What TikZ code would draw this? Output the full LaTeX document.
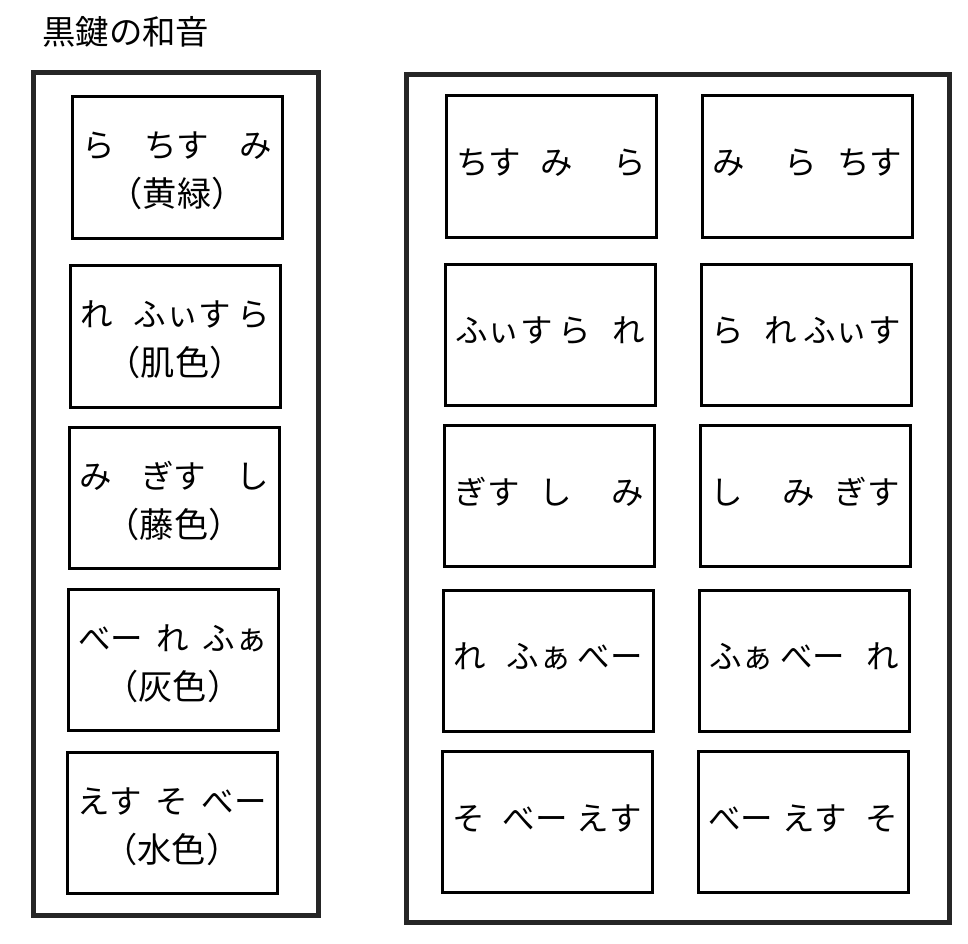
\documentclass[tikz,border=0pt]{standalone}
\usepackage{fontspec}
\newfontfamily\jpfont{Noto Sans CJK JP}
\tikzset{
  panel/.style={draw=black!85, line width=0.1cm},
  card/.style={draw, line width=0.06cm, minimum width=4.2cm, minimum height=2.82cm, inner sep=0pt},
  chord/.style={text width=3.8cm, align=justify, font=\jpfont\fontsize{18.5}{22}\selectfont},
  colour/.style={font=\jpfont\fontsize{19.5}{23}\selectfont}
}
\begin{document}
\begin{tikzpicture}

  \useasboundingbox (0,0) rectangle (19.36,-18.88);
  \node[anchor=west, inner sep=0pt, font=\jpfont\fontsize{19}{22}\selectfont] (title) at (0.84,-0.64) {黒鍵の和音};

  % left panel
  \draw[panel] (0.66,-1.46) rectangle (6.36,-18.30);
  \node[card] (l1) at (3.54,-3.35) {};
  \node[card] (l2) at (3.50,-6.73) {};
  \node[card] (l3) at (3.48,-9.96) {};
  \node[card] (l4) at (3.46,-13.20) {};
  \node[card] (l5) at (3.44,-16.46) {};

  \node[chord] at ([yshift=0.44cm]l1.center) {ら\hfill ちす\hfill み};
  \node[colour] at ([yshift=-0.52cm]l1.center) {（黄緑）};
  \node[chord] at ([yshift=0.44cm]l2.center) {れ\hfill ふぃす\hspace{0.12cm}ら};
  \node[colour] at ([yshift=-0.52cm]l2.center) {（肌色）};
  \node[chord] at ([yshift=0.44cm]l3.center) {み\hfill ぎす\hfill し};
  \node[colour] at ([yshift=-0.52cm]l3.center) {（藤色）};
  \node[chord] at ([yshift=0.44cm]l4.center) {べー\hfill れ\hfill ふぁ};
  \node[colour] at ([yshift=-0.52cm]l4.center) {（灰色）};
  \node[chord] at ([yshift=0.44cm]l5.center) {えす\hfill そ\hfill べー};
  \node[colour] at ([yshift=-0.52cm]l5.center) {（水色）};

  % right panel
  \draw[panel] (8.12,-1.50) rectangle (18.98,-18.44);
  \node[card] (a1) at (11.02,-3.33) {};
  \node[card] (a2) at (11.00,-6.69) {};
  \node[card] (a3) at (10.99,-9.92) {};
  \node[card] (a4) at (10.96,-13.21) {};
  \node[card] (a5) at (10.94,-16.44) {};
  \node[card] (b1) at (16.15,-3.33) {};
  \node[card] (b2) at (16.12,-6.69) {};
  \node[card] (b3) at (16.10,-9.92) {};
  \node[card] (b4) at (16.08,-13.21) {};
  \node[card] (b5) at (16.06,-16.44) {};

  \node[chord] at ([yshift=0.08cm]a1.center) {ちす\hfill み\hfill\hfill ら};
  \node[chord] at ([yshift=0.08cm]a2.center) {ふぃす\hspace{0.12cm}ら\hfill れ};
  \node[chord] at ([yshift=0.08cm]a3.center) {ぎす\hfill し\hfill\hfill み};
  \node[chord] at ([yshift=0.08cm]a4.center) {れ\hfill ふぁ\hspace{0.12cm}べー};
  \node[chord] at ([yshift=0.08cm]a5.center) {そ\hfill\hfill べー\hfill えす};
  \node[chord] at ([yshift=0.08cm]b1.center) {み\hfill\hfill ら\hfill ちす};
  \node[chord] at ([yshift=0.08cm]b2.center) {ら\hfill れ\hspace{0.12cm}ふぃす};
  \node[chord] at ([yshift=0.08cm]b3.center) {し\hfill\hfill み\hfill ぎす};
  \node[chord] at ([yshift=0.08cm]b4.center) {ふぁ\hspace{0.12cm}べー\hfill れ};
  \node[chord] at ([yshift=0.08cm]b5.center) {べー\hfill えす\hfill\hfill そ};

\end{tikzpicture}
\end{document}
